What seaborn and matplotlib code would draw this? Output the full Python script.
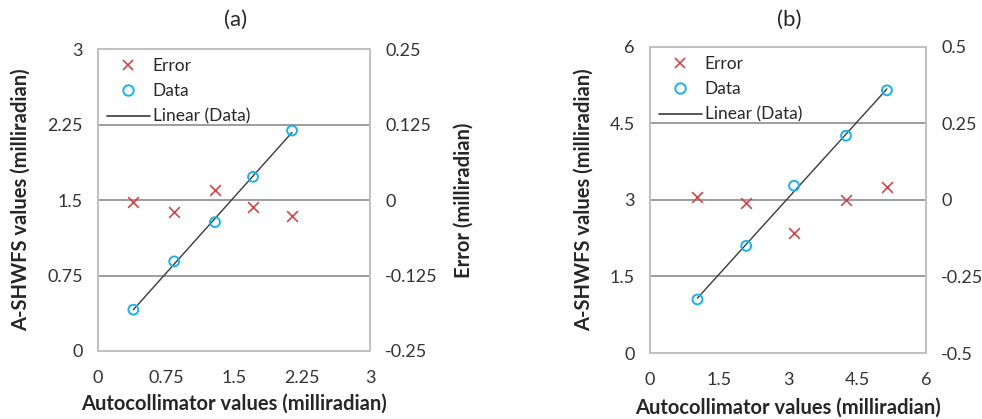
import numpy as np
import pandas as pd
import matplotlib.pyplot as plt
import seaborn as sns
from matplotlib.lines import Line2D

# panel (a)
a_x = [0.39, 0.84, 1.29, 1.71, 2.14]
a_data = [0.41, 0.89, 1.28, 1.73, 2.19]
a_err = [-0.003, -0.020, 0.017, -0.012, -0.027]

# panel (b)
b_x = [1.03, 2.09, 3.13, 4.26, 5.15]
b_data = [1.05, 2.10, 3.28, 4.26, 5.15]
b_err = [0.011, -0.011, -0.107, 0.0, 0.044]

RED = "#D0464B"
CYAN = "#1AB2E8"
GRID = "#8C8C8C"
FRAME = "#BFBFBF"
TXT = "#262626"

sns.set_theme(style="white")
plt.rcParams['font.family'] = ['Lato', 'DejaVu Sans']


def draw_panel(fig, rect, x, data, err, xmax, ymax, emax, title, right_label,
               ylab_x, xlab_y, title_y):
    ax = fig.add_axes(rect)
    ax2 = ax.twinx()
    df = pd.DataFrame({"x": x, "data": data, "err": err})

    # linear trend on the data
    k, b = np.polyfit(df["x"], df["data"], 1)
    df["fit"] = k * df["x"] + b

    ticks = np.linspace(0, ymax, 5)
    for t in ticks[1:-1]:
        ax.axhline(t, color=GRID, lw=1.2, zorder=0)

    sns.lineplot(data=df, x="x", y="fit", ax=ax, color="#3A3A3A", lw=1.0, zorder=2)
    sns.scatterplot(data=df, x="x", y="data", ax=ax, marker="o", s=50,
                    facecolors="none", edgecolor=CYAN, linewidth=1.4, zorder=3)
    sns.scatterplot(data=df, x="x", y="err", ax=ax2, marker="x", s=60,
                    color=RED, linewidth=1.2, zorder=3)

    ax.set_xlim(0, xmax)
    ax.set_ylim(0, ymax)
    ax2.set_ylim(-emax, emax)
    xt = np.linspace(0, xmax, 5)
    et = np.linspace(-emax, emax, 5)
    ax.set_xticks(xt)
    ax.set_yticks(ticks)
    ax2.set_yticks(et)
    ax.set_xticklabels([f"{v:g}" for v in xt])
    ax.set_yticklabels([f"{v:g}" for v in ticks])
    ax2.set_yticklabels([f"{v:g}" for v in et])

    for a in (ax, ax2):
        a.tick_params(length=0, labelsize=13, colors="#333333", pad=11)
        for s in a.spines.values():
            s.set_color(FRAME)
            s.set_linewidth(1.2)
        a.grid(False)
    ax.tick_params(axis="x", pad=14)

    ax.set_xlabel("Autocollimator values (milliradian)", fontsize=14.5,
                  fontweight="bold", color=TXT)
    ax.set_ylabel("A-SHWFS values (milliradian)", fontsize=14.5,
                  fontweight="bold", color=TXT)
    ax.xaxis.set_label_coords(0.5, xlab_y)
    ax.yaxis.set_label_coords(ylab_x, 0.5)
    if right_label:
        ax2.set_ylabel("Error (milliradian)", fontsize=14.5, fontweight="bold",
                       color=TXT)
        ax2.yaxis.set_label_coords(1.309, 0.5)
    else:
        ax2.set_ylabel("")
    ax.text(0.505, title_y, title, transform=ax.transAxes, fontsize=16,
            color=TXT, ha="center", va="center")

    handles = [
        Line2D([], [], ls="none", marker="x", color=RED, ms=7.5, mew=1.2),
        Line2D([], [], ls="none", marker="o", mfc="none", mec=CYAN, ms=7.5, mew=1.4),
        Line2D([], [], color="#3A3A3A", lw=1.2),
    ]
    ax2.legend(handles, ["Error", "Data", "Linear (Data)"], loc="upper left",
               frameon=False, fontsize=12.5, handlelength=2.5, handletextpad=0.15,
               labelspacing=0.55, borderaxespad=0.1, bbox_to_anchor=(0.0, 1.0))


fig = plt.figure(figsize=(9.82, 4.19), dpi=100)
draw_panel(fig, [0.0998, 0.1623, 0.277, 0.7207], a_x, a_data, a_err,
           3, 3, 0.25, "(a)", True, -0.246, -0.142, 1.096)
draw_panel(fig, [0.662, 0.1575, 0.281, 0.7305], b_x, b_data, b_err,
           6, 6, 0.5, "(b)", False, -0.203, -0.147, 1.088)

fig.savefig("out.png", dpi=100)
